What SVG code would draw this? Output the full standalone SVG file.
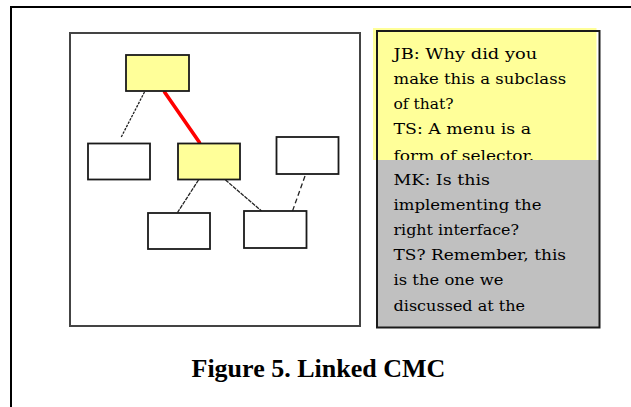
<svg xmlns="http://www.w3.org/2000/svg" width="631" height="407" viewBox="0 0 631 407">
  <style>
    .panel { fill: #ffffff; stroke: #444444; stroke-width: 2; }
    .node { stroke: #1a1a1a; stroke-width: 1.8; }
    .plain { fill: #ffffff; }
    .hl { fill: #ffff99; }
    .edge { fill: none; stroke: #222222; stroke-width: 1.3; }
    .chat { font-family: "DejaVu Serif", "Liberation Serif", serif; font-size: 15px; fill: #000000; }
    .caption { font-family: "Liberation Serif", "Times New Roman", serif; font-size: 26px; font-weight: bold; fill: #000000; }
  </style>

  <rect width="631" height="407" fill="#ffffff"/>

  <!-- page frame (top and left rules) -->
  <path d="M11 407 V7 H631" fill="none" stroke="#000000" stroke-width="2"/>

  <!-- class-hierarchy panel -->
  <rect id="tree-panel" class="panel" x="70" y="33" width="290" height="293"/>

  <g id="connectors">
    <line class="edge" x1="144.5" y1="92" x2="121" y2="137.5" stroke-dasharray="2.5 1.2"/>
    <line x1="164.5" y1="92" x2="199.5" y2="142.5" stroke="#ff0000" stroke-width="3.6" stroke-linecap="round"/>
    <line class="edge" x1="198.5" y1="180" x2="177.5" y2="212.5" stroke-dasharray="4 1"/>
    <line class="edge" x1="225.5" y1="180" x2="261.5" y2="211" stroke-dasharray="4 1"/>
    <line class="edge" x1="305" y1="176" x2="292.5" y2="211" stroke-dasharray="5 3"/>
  </g>

  <g id="node-root"><rect class="node hl" x="126" y="55" width="63" height="36"/></g>
  <g id="node-left"><rect class="node plain" x="88" y="143.5" width="62" height="36"/></g>
  <g id="node-mid"><rect class="node hl" x="178" y="143.5" width="62" height="36"/></g>
  <g id="node-right"><rect class="node plain" x="276.5" y="137" width="62" height="37"/></g>
  <g id="node-bottom-left"><rect class="node plain" x="148" y="213" width="62" height="36"/></g>
  <g id="node-bottom-right"><rect class="node plain" x="244" y="211" width="62.5" height="37"/></g>

  <!-- discussion panel -->
  <g id="discussion">
    <rect x="373" y="28" width="223.5" height="132" fill="#ffff99"/>
    <text class="chat" x="393.5" y="58.5" textLength="143.6" lengthAdjust="spacingAndGlyphs">JB: Why did you</text>
    <text class="chat" x="393.5" y="83.7" textLength="172.6" lengthAdjust="spacingAndGlyphs">make this a subclass</text>
    <text class="chat" x="393.5" y="108.9" textLength="60" lengthAdjust="spacingAndGlyphs">of that?</text>
    <text class="chat" x="393.5" y="134.1" textLength="137.6" lengthAdjust="spacingAndGlyphs">TS: A menu is a</text>
    <text class="chat" x="393.5" y="160.5" textLength="140.8" lengthAdjust="spacingAndGlyphs">form of selector.</text>
    <rect x="377" y="160" width="222" height="167" fill="#c0c0c0"/>
    <text class="chat" x="393.5" y="184.5" textLength="96.5" lengthAdjust="spacingAndGlyphs">MK: Is this</text>
    <text class="chat" x="393.5" y="209.7" textLength="148" lengthAdjust="spacingAndGlyphs">implementing the</text>
    <text class="chat" x="393.5" y="234.9" textLength="125.5" lengthAdjust="spacingAndGlyphs">right interface?</text>
    <text class="chat" x="393.5" y="260.1" textLength="172.6" lengthAdjust="spacingAndGlyphs">TS? Remember, this</text>
    <text class="chat" x="393.5" y="285.3" textLength="110" lengthAdjust="spacingAndGlyphs">is the one we</text>
    <text class="chat" x="393.5" y="310.5" textLength="131.6" lengthAdjust="spacingAndGlyphs">discussed at the</text>
    <rect x="377" y="31" width="222.5" height="296.5" fill="none" stroke="#1a1a1a" stroke-width="2"/>
  </g>

  <text class="caption" x="191.5" y="376.5">Figure 5. Linked CMC</text>
</svg>
